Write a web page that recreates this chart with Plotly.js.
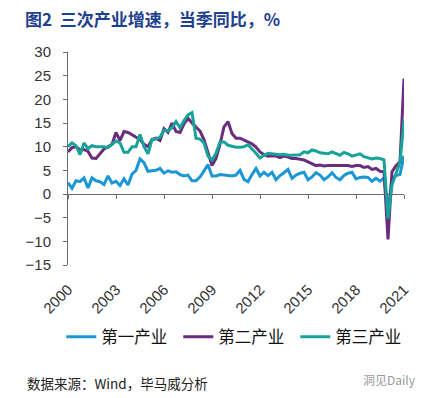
<!DOCTYPE html>
<html>
<head>
<meta charset="utf-8">
<script src="https://cdn.plot.ly/plotly-3.0.1.min.js"></script>
<style>html,body{margin:0;padding:0;background:#fff;}#chart{width:431px;height:398px;}</style>
</head>
<body>
<div id="chart"></div>
<script>
// Quarters 2000Q1 .. 2021Q1
const years = [];
for (let y = 2000; y <= 2021; y++) years.push(y);
const quarters = [];
years.forEach(y => { for (let q = 1; q <= 4; q++) { if (y < 2021 || q === 1) quarters.push(y + 'Q' + q); } });

const tickYears = ['2000','2003','2006','2009','2012','2015','2018','2021'];

const primary = [
  2.4, 1.2, 2.8, 2.6,   3.4, 1.3, 3.4, 2.8,   2.6, 2.0, 3.8, 2.3,   2.7, 1.8, 3.2, 1.9,
  4.2, 5.0, 7.4, 6.6,   4.8, 4.9, 5.0, 5.4,   4.4, 4.9, 4.6, 4.7,   4.1, 3.8, 4.0, 2.8,
  2.8, 3.6, 5.0, 6.2,   3.8, 3.8, 4.1, 4.0,   3.8, 3.8, 4.0, 5.0,   3.1, 2.6, 4.1, 5.4,
  3.8, 4.6, 3.9, 4.6,   3.0, 3.9, 4.5, 5.2,   3.3, 4.0, 4.4, 4.6,   3.0, 3.6, 4.5, 4.0,
  3.0, 3.6, 4.5, 3.5,   3.0, 3.9, 4.4, 4.6,   3.2, 3.5, 3.6, 3.5,   2.7, 3.3, 2.7, 3.4,
  -3.2, 3.3, 3.9, 4.1,  8.1
];
const secondary = [
  8.9, 9.8, 10.0, 9.3,  9.4, 9.0, 7.6, 7.5,   8.5, 9.5, 10.0, 10.5, 13.0, 11.3, 13.2, 13.0,
  12.5, 12.0, 11.5, 10.5, 10.0, 11.5, 11.8, 11.3, 13.8, 13.0, 15.0, 13.2, 13.0, 14.8, 16.0, 15.0,
  14.2, 13.3, 11.5, 8.5, 6.0, 7.5, 10.5, 14.2, 15.3, 12.8, 11.8, 11.8, 11.4, 11.0, 10.6, 9.9,
  8.9, 8.3, 8.0, 8.1,   8.0, 7.7, 8.0, 7.8,   7.5, 7.5, 7.3, 7.2,   6.8, 6.4, 6.0, 6.1,
  5.9, 6.0, 6.0, 6.1,   6.1, 6.1, 6.0, 5.8,   6.0, 6.0, 5.6, 5.8,   5.2, 5.4, 4.8, 4.7,
  -9.6, 4.7, 6.0, 6.8,  24.4
];
const tertiary = [
  10.0, 10.8, 10.2, 8.3, 10.8, 9.6, 10.2, 10.0, 10.0, 10.0, 9.8, 10.5, 11.2, 10.8, 8.8, 8.8,
  10.0, 10.0, 12.6, 10.0, 8.5, 11.5, 11.6, 12.0, 13.5, 13.3, 14.0, 15.3, 14.0, 15.5, 16.7, 17.2,
  11.8, 11.6, 10.8, 8.0, 7.2, 8.6, 11.0, 11.0, 10.3, 10.1, 9.9, 9.9, 10.0, 10.4, 9.6, 8.6,
  7.6, 8.2, 8.6, 8.5,   8.5, 8.3, 8.4, 8.2,   8.2, 8.2, 8.3, 8.9,   8.7, 9.3, 9.1, 8.7,
  8.6, 8.5, 8.9, 8.6,   8.2, 8.8, 8.5, 8.0,   8.2, 8.5, 7.9, 7.7,   7.4, 7.6, 7.5, 7.2,
  -5.2, 1.9, 4.3, 6.7,  15.6
];

const seriesNames = ['第一产业', '第二产业', '第三产业'];
const seriesColors = ['#1B97D6', '#6A2C7E', '#17A398'];
const seriesData = [primary, secondary, tertiary];

const traces = seriesData.map((d, k) => ({
  type: 'scatter', mode: 'lines', x: quarters, y: d, name: seriesNames[k],
  line: {color: seriesColors[k], width: 3}, hoverinfo: 'skip'
}));
// helper trace for the zero-line axis (x2)
traces.push({type: 'scatter', mode: 'lines', x: quarters, y: quarters.map(() => null),
  xaxis: 'x2', yaxis: 'y', showlegend: false, hoverinfo: 'skip'});

const tickQ = tickYears.map(y => y + 'Q1');
const axisFont = {family: 'Liberation Sans, Arial, sans-serif', size: 15, color: '#333'};

const layout = {
  width: 431, height: 398,
  margin: {l: 68, r: 27, t: 52, b: 133},
  paper_bgcolor: '#fff', plot_bgcolor: '#fff',
  showlegend: true,
  title: {text: '图2  三次产业增速，当季同比，%', xref: 'container', yref: 'container',
    x: 25/431, xanchor: 'left', y: 1 - 20/398, yanchor: 'middle',
    font: {family: 'Noto Sans CJK SC', size: 17, color: '#1F3F8F', weight: 700}},
  xaxis: {type: 'category', range: [0, quarters.length - 1], tickvals: tickQ, ticktext: tickYears,
    tickangle: -45, showgrid: false, zeroline: false, showline: false,
    ticks: 'outside', ticklen: 9, tickcolor: 'rgba(0,0,0,0)', tickfont: axisFont},
  xaxis2: {type: 'category', overlaying: 'x', anchor: 'free', position: 1/3,
    range: [0, quarters.length - 1], tickvals: tickQ, showticklabels: false,
    showline: true, linecolor: '#6b6b6b', linewidth: 1, ticks: 'outside', ticklen: 4,
    tickcolor: '#6b6b6b', showgrid: false, zeroline: false},
  yaxis: {range: [-15, 30], tickvals: [-15,-10,-5,0,5,10,15,20,25,30], showgrid: false,
    zeroline: false, showline: true, linecolor: '#6b6b6b', linewidth: 1,
    ticks: 'outside', ticklen: 4, tickcolor: '#6b6b6b', tickfont: axisFont, ticklabelstandoff: 9},
  legend: {orientation: 'h', x: -0.02, xanchor: 'left', y: (265 - 337)/213, yanchor: 'middle',
    traceorder: 'normal', itemgap: 0, entrywidth: 72, entrywidthmode: 'pixels',
    font: {family: 'Noto Sans CJK SC', size: 16.5, color: '#111'}, bgcolor: 'rgba(0,0,0,0)'},
  annotations: [
    {text: '数据来源：Wind，毕马威分析', xref: 'paper', yref: 'paper',
      x: (25 - 68)/336, y: (265 - 383)/213, xanchor: 'left', yanchor: 'middle', showarrow: false,
      font: {family: 'Noto Sans CJK SC', size: 13.5, color: '#222'}},
    {text: '洞见Daily', xref: 'paper', yref: 'paper',
      x: (418 - 68)/336, y: (265 - 379)/213, xanchor: 'right', yanchor: 'middle', showarrow: false,
      font: {family: 'Noto Sans CJK SC', size: 12, color: '#999'}}
  ]
};

Plotly.newPlot('chart', traces, layout, {displayModeBar: false, staticPlot: true});
</script>
</body>
</html>
